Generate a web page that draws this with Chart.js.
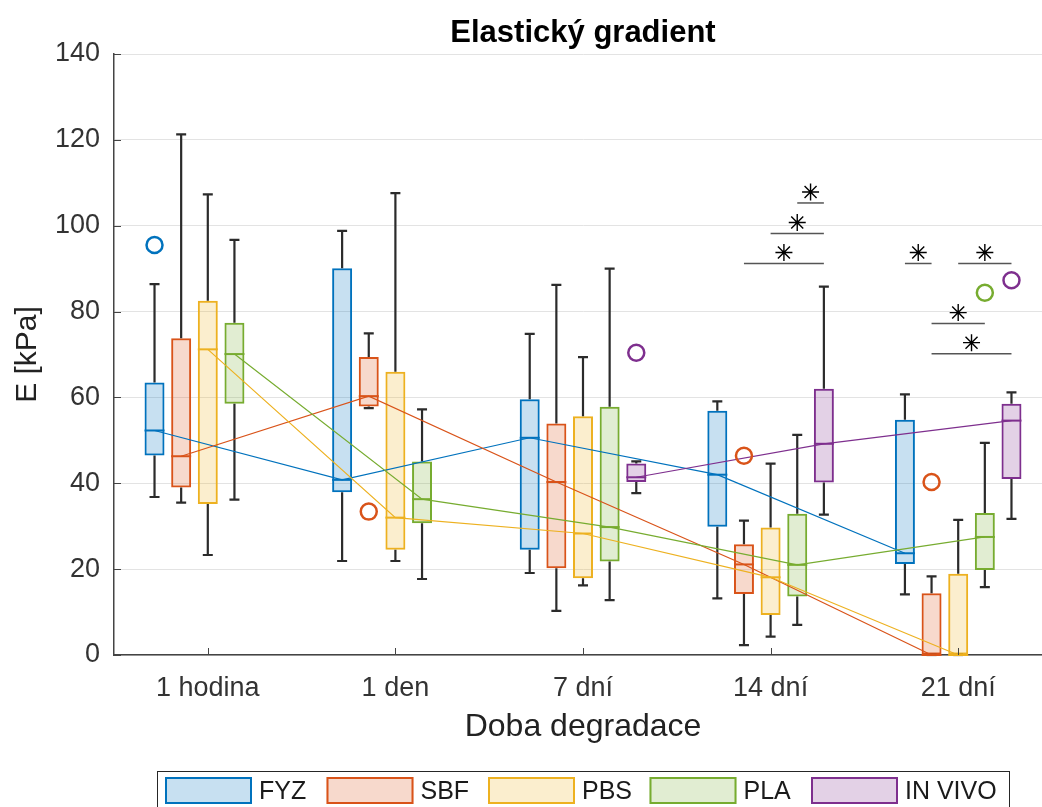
<!DOCTYPE html>
<html>
<head>
<meta charset="utf-8">
<script src="https://cdn.jsdelivr.net/npm/chart.js@4.4.1/dist/chart.umd.min.js"></script>
<style>
  html, body { margin: 0; padding: 0; background: #fff; overflow: hidden; }
  #wrap { width: 1070px; height: 815px; }
</style>
</head>
<body>
<div id="wrap"><canvas id="chart" width="1070" height="815"></canvas></div>
<script>
// categories and series
const categories = ['1 hodina', '1 den', '7 dní', '14 dní', '21 dní'];
const seriesNames = ['FYZ', 'SBF', 'PBS', 'PLA', 'IN VIVO'];
const chartTitle = 'Elastický gradient';

// box statistics, one row per series (FYZ, SBF, PBS, PLA, IN VIVO), one column per category
const whiskerLow = [
  [36.8, 21.9, 19.1, 13.2, 14.1],
  [35.5, 57.5, 10.3, 2.3, 0],
  [23.3, 21.9, 16.2, 4.3, 0],
  [36.2, 17.7, 12.8, 7.0, 15.8],
  [null, null, 37.7, 32.7, 31.7],
];
const q1 = [
  [46.5, 37.9, 24.5, 29.9, 21.2],
  [39.0, 57.9, 20.2, 14.2, 0],
  [35.2, 24.5, 17.9, 9.3, 0],
  [58.5, 30.7, 21.8, 13.6, 19.8],
  [null, null, 40.3, 40.2, 41.0],
];
const median = [
  [52.3, 40.8, 50.6, 42.0, 23.7],
  [46.3, 60.3, 40.3, 21.1, 0],
  [71.2, 32.0, 28.3, 18.1, 0],
  [70.1, 36.3, 29.8, 21.0, 27.5],
  [null, null, 41.4, 49.2, 54.6],
];
const q3 = [
  [63.5, 90.1, 59.6, 56.9, 54.8],
  [73.8, 69.4, 53.9, 25.8, 14.4],
  [82.5, 66.0, 55.6, 29.7, 18.9],
  [77.4, 45.1, 57.8, 32.9, 33.1],
  [null, null, 44.6, 62.0, 58.5],
];
const whiskerHigh = [
  [86.4, 98.8, 74.8, 59.1, 60.7],
  [121.3, 74.9, 86.2, 31.3, 18.3],
  [107.3, 107.6, 69.4, 44.6, 31.5],
  [96.7, 57.2, 90.0, 51.3, 49.4],
  [null, null, 45.1, 85.8, 61.2],
];
// outliers per series: [category index, value]
const outliers = [
  [[0, 95.5]],
  [[1, 33.4], [3, 46.4], [4, 40.3]],
  [],
  [[4, 84.4]],
  [[2, 70.4], [4, 87.3]],
];
// significance bars: [category index, from series, to series, value]
const sigBars = [
  [3, 1, 4, 91.2],
  [3, 2, 4, 98.2],
  [3, 3, 4, 105.3],
  [4, 0, 1, 91.2],
  [4, 2, 4, 91.2],
  [4, 1, 3, 77.2],
  [4, 1, 4, 70.2],
];
const yTicks = [0, 20, 40, 60, 80, 100, 120, 140];

const colors = ['#0072BD', '#D95319', '#EDB120', '#77AC30', '#7E2F8E'];
const fills = ['rgba(0,114,189,0.22)', 'rgba(217,83,25,0.22)', 'rgba(237,177,32,0.22)',
               'rgba(119,172,48,0.22)', 'rgba(126,47,142,0.22)'];
const FONT = "'Liberation Sans', Arial, Helvetica, sans-serif";

function star(ctx, x, y, r) {
  ctx.beginPath();
  for (let k = 0; k < 4; k++) {
    const a = k * Math.PI / 4;
    ctx.moveTo(x - r * Math.sin(a), y - r * Math.cos(a));
    ctx.lineTo(x + r * Math.sin(a), y + r * Math.cos(a));
  }
  ctx.stroke();
}

const boxExtras = {
  id: 'boxExtras',
  afterDatasetsDraw(chart) {
    const ctx = chart.ctx;
    const y = chart.scales.y;
    const xs = chart.scales.x;
    const area = chart.chartArea;
    const barX = (s, c) => chart.getDatasetMeta(s).data[c].x;
    ctx.save();
    ctx.lineCap = 'butt';

    // whiskers
    ctx.strokeStyle = '#2b2b2b';
    ctx.lineWidth = 2.2;
    seriesNames.forEach((_, s) => {
      categories.forEach((_, c) => {
        if (q1[s][c] == null) return;
        const x = barX(s, c);
        [[q3[s][c], whiskerHigh[s][c]], [q1[s][c], whiskerLow[s][c]]].forEach(([from, to]) => {
          ctx.beginPath();
          ctx.moveTo(x, y.getPixelForValue(from));
          ctx.lineTo(x, y.getPixelForValue(to));
          ctx.moveTo(x - 5, y.getPixelForValue(to));
          ctx.lineTo(x + 5, y.getPixelForValue(to));
          ctx.stroke();
        });
      });
    });

    // medians and connecting lines
    seriesNames.forEach((_, s) => {
      ctx.strokeStyle = colors[s];
      ctx.lineWidth = 2;
      const pts = [];
      categories.forEach((_, c) => {
        if (median[s][c] == null) return;
        const bar = chart.getDatasetMeta(s).data[c];
        const py = y.getPixelForValue(median[s][c]);
        ctx.beginPath();
        ctx.moveTo(bar.x - bar.width / 2, py);
        ctx.lineTo(bar.x + bar.width / 2, py);
        ctx.stroke();
        pts.push([bar.x, py]);
      });
      ctx.lineWidth = 1.2;
      ctx.beginPath();
      pts.forEach(([px, py], i) => i ? ctx.lineTo(px, py) : ctx.moveTo(px, py));
      ctx.stroke();
    });

    // outliers
    ctx.lineWidth = 2.5;
    outliers.forEach((list, s) => {
      ctx.strokeStyle = colors[s];
      list.forEach(([c, v]) => {
        ctx.beginPath();
        ctx.arc(barX(s, c), y.getPixelForValue(v), 8, 0, Math.PI * 2);
        ctx.stroke();
      });
    });

    // significance bars
    sigBars.forEach(([c, a, b, v]) => {
      const x1 = barX(a, c), x2 = barX(b, c), py = y.getPixelForValue(v);
      ctx.strokeStyle = '#555';
      ctx.lineWidth = 1.5;
      ctx.beginPath();
      ctx.moveTo(x1, py);
      ctx.lineTo(x2, py);
      ctx.stroke();
      ctx.strokeStyle = '#000';
      ctx.lineWidth = 1.4;
      star(ctx, (x1 + x2) / 2, py - 11, 8.5);
    });

    // inward tick marks
    ctx.strokeStyle = '#444';
    ctx.lineWidth = 1;
    categories.forEach((_, c) => {
      const px = Math.round(xs.getPixelForValue(c)) + 0.5;
      ctx.beginPath();
      ctx.moveTo(px, area.bottom);
      ctx.lineTo(px, area.bottom - 7);
      ctx.stroke();
    });
    yTicks.forEach(t => {
      const py = Math.round(y.getPixelForValue(t)) + 0.5;
      ctx.beginPath();
      ctx.moveTo(area.left, py);
      ctx.lineTo(area.left + 7, py);
      ctx.stroke();
    });
    ctx.restore();
  },
  afterDraw(chart) {
    const ctx = chart.ctx;
    const area = chart.chartArea;
    ctx.save();
    // title centred over the axes
    ctx.fillStyle = '#000';
    ctx.font = 'bold 31px ' + FONT;
    ctx.textAlign = 'center';
    ctx.textBaseline = 'middle';
    ctx.fillText(chartTitle, (area.left + area.right) / 2, 33);

    // legend box under the axes
    const L = { left: 157, top: 771, right: 1009, bottom: 812 };
    ctx.textAlign = 'left';
    ctx.fillStyle = '#fff';
    ctx.fillRect(L.left, L.top, L.right - L.left, L.bottom - L.top);
    ctx.strokeStyle = '#262626';
    ctx.lineWidth = 1;
    ctx.strokeRect(L.left + 0.5, L.top + 0.5, L.right - L.left, L.bottom - L.top);
    ctx.font = '25px ' + FONT;
    seriesNames.forEach((name, s) => {
      const x0 = L.left + 8 + s * 161.5;
      ctx.fillStyle = fills[s];
      ctx.fillRect(x0, L.top + 6, 87, 27);
      ctx.strokeStyle = colors[s];
      ctx.lineWidth = 2;
      ctx.strokeRect(x0 + 1, L.top + 7, 85, 25);
      ctx.fillStyle = '#1a1a1a';
      ctx.fillText(name, x0 + 94, L.top + 21);
    });
    ctx.restore();
  }
};

new Chart(document.getElementById('chart'), {
  type: 'bar',
  data: {
    labels: categories,
    datasets: seriesNames.map((name, s) => ({
      label: name,
      data: q1[s].map((v, c) => v == null ? null : [v, q3[s][c]]),
      backgroundColor: fills[s],
      borderColor: colors[s],
      borderWidth: 2,
      borderSkipped: false,
      categoryPercentage: 0.71,
      barPercentage: 0.75,
    })),
  },
  options: {
    responsive: false,
    animation: false,
    layout: { padding: { left: 0, right: 18, top: 54, bottom: 60 } },
    plugins: {
      legend: { display: false },
      tooltip: { enabled: false },
      title: { display: false },
    },
    scales: {
      x: {
        grid: { display: false, drawTicks: false },
        border: { color: '#444', width: 1.5 },
        ticks: { color: '#333', padding: 17, font: { family: FONT, size: 27 } },
        title: { display: true, text: 'Doba degradace', color: '#222',
                 font: { family: FONT, size: 32 }, padding: { top: 0, bottom: 9 } },
        afterFit: s => { s.height = 100; },
      },
      y: {
        min: 0, max: 140,
        afterBuildTicks: s => { s.ticks = yTicks.map(v => ({ value: v })); },
        grid: { color: '#e3e3e3', lineWidth: 1, drawTicks: false },
        border: { color: '#444', width: 1.5 },
        ticks: { color: '#333', padding: 14, font: { family: FONT, size: 27 } },
        title: { display: true, text: 'E [kPa]', color: '#222',
                 font: { family: FONT, size: 30 }, padding: { top: 10, bottom: 0 } },
        afterFit: s => { s.width = 114; },
      },
    },
  },
  plugins: [boxExtras],
});
</script>
</body>
</html>
